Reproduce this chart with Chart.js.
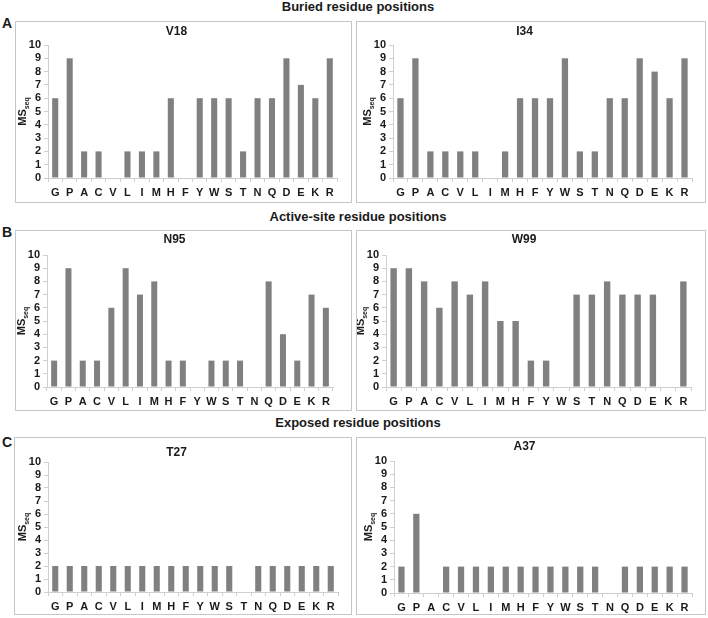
<!DOCTYPE html>
<html>
<head>
<meta charset="utf-8">
<script src="https://cdn.jsdelivr.net/npm/chart.js@4"></script>
<style>
  body { margin: 0; background: #fff; width: 708px; height: 618px; position: relative; overflow: hidden;
         font-family: "Liberation Sans", Arial, sans-serif; color: #1a1a1a; }
  .head { position: absolute; left: 0; width: 716px; text-align: center; font-weight: bold; font-size: 13px; line-height: 14px; }
  .letter { position: absolute; left: 2px; font-weight: bold; font-size: 14px; line-height: 14px; }
  .box { position: absolute; border: 1px solid #c6c6c6; box-sizing: border-box; }
  .box canvas { position: absolute; left: 0; top: 0; }
</style>
</head>
<body>
<div class="head" style="top:0px">Buried residue positions</div>
<div class="head" style="top:210px">Active-site residue positions</div>
<div class="head" style="top:416px">Exposed residue positions</div>
<div class="letter" style="top:16px">A</div>
<div class="letter" style="top:225px">B</div>
<div class="letter" style="top:435px">C</div>
<div id="panels"></div>

<script>
Chart.defaults.font.family = '"Liberation Sans", Arial, sans-serif';
Chart.defaults.color = '#1a1a1a';

const residues = ['G', 'P', 'A', 'C', 'V', 'L', 'I', 'M', 'H', 'F', 'Y', 'W', 'S', 'T', 'N', 'Q', 'D', 'E', 'K', 'R'];

const v18 = [6, 9, 2, 2, 0, 2, 2, 2, 6, 0, 6, 6, 6, 2, 6, 6, 9, 7, 6, 9];
const i34 = [6, 9, 2, 2, 2, 2, 0, 2, 6, 6, 6, 9, 2, 2, 6, 6, 9, 8, 6, 9];
const n95 = [2, 9, 2, 2, 6, 9, 7, 8, 2, 2, 0, 2, 2, 2, 0, 8, 4, 2, 7, 6];
const w99 = [9, 9, 8, 6, 8, 7, 8, 5, 5, 2, 2, 0, 7, 7, 8, 7, 7, 7, 0, 8];
const t27 = [2, 2, 2, 2, 2, 2, 2, 2, 2, 2, 2, 2, 2, 0, 2, 2, 2, 2, 2, 2];
const a37 = [2, 6, 0, 2, 2, 2, 2, 2, 2, 2, 2, 2, 2, 2, 0, 2, 2, 2, 2, 2];

const yMin = 0, yMax = 10, yStep = 1;

// box: left, top, width, height (page px); yw/xh: axis sizes; pr: right pad; tc: title centre; top: plot top
const panels = [
  { title: 'V18', data: v18, box: [15, 21, 337, 182], yw: 32, pr: 14, tc: 10, top: 23, xh: 24 },
  { title: 'I34', data: i34, box: [356, 21, 350, 182], yw: 36, pr: 13, tc: 10, top: 23, xh: 24 },
  { title: 'N95', data: n95, box: [15, 230, 337, 181], yw: 31, pr: 18, tc: 9, top: 24, xh: 23 },
  { title: 'W99', data: w99, box: [356, 230, 350, 181], yw: 29, pr: 14, tc: 9, top: 24, xh: 23 },
  { title: 'T27', data: t27, box: [14, 437, 338, 178], yw: 33, pr: 13, tc: 15, top: 24, xh: 22 },
  { title: 'A37', data: a37, box: [356, 437, 350, 178], yw: 37, pr: 13, tc: 9, top: 23, xh: 21 }
];

const axisGrey = '#cfcfcf';
const tickFont = { size: 11, weight: 'bold' };

// rotated "MS" with subscript "seq"
const msLabel = {
  id: 'msLabel',
  afterDraw(chart) {
    const a = chart.chartArea, ctx = chart.ctx;
    ctx.save();
    ctx.translate(a.left - 25, (a.top + a.bottom) / 2);
    ctx.rotate(-Math.PI / 2);
    ctx.fillStyle = '#1a1a1a';
    ctx.textBaseline = 'middle';
    ctx.font = 'bold 11px "Liberation Sans", Arial, sans-serif';
    const w1 = ctx.measureText('MS').width;
    ctx.font = 'bold 7px "Liberation Sans", Arial, sans-serif';
    const w2 = ctx.measureText('seq').width;
    const x0 = -(w1 + w2) / 2;
    ctx.font = 'bold 11px "Liberation Sans", Arial, sans-serif';
    ctx.fillText('MS', x0, 0);
    ctx.font = 'bold 7px "Liberation Sans", Arial, sans-serif';
    ctx.fillText('seq', x0 + w1, 4);
    ctx.restore();
  }
};

const host = document.getElementById('panels');

panels.forEach(p => {
  const div = document.createElement('div');
  div.className = 'box';
  div.style.left = p.box[0] + 'px';
  div.style.top = p.box[1] + 'px';
  div.style.width = p.box[2] + 'px';
  div.style.height = p.box[3] + 'px';
  const cv = document.createElement('canvas');
  cv.width = p.box[2] - 2;
  cv.height = p.box[3] - 2;
  div.appendChild(cv);
  host.appendChild(div);

  new Chart(cv, {
    type: 'bar',
    data: {
      labels: residues,
      datasets: [{ data: p.data, backgroundColor: '#808080', borderWidth: 0, barPercentage: 0.42, categoryPercentage: 1 }]
    },
    options: {
      responsive: false,
      animation: false,
      layout: { padding: { left: 0, right: p.pr, top: 0, bottom: 0 } },
      plugins: {
        legend: { display: false },
        tooltip: { enabled: false },
        title: {
          display: true, text: p.title, color: '#1a1a1a',
          font: { size: 12, weight: 'bold', lineHeight: 1.2 },
          padding: { top: p.tc - 7.2, bottom: p.top - p.tc - 7.2 }
        }
      },
      scales: {
        x: {
          grid: { display: true, drawOnChartArea: false, tickLength: 4, color: axisGrey, offset: true },
          border: { color: axisGrey },
          ticks: { color: '#1a1a1a', font: tickFont, padding: 4, autoSkip: false, maxRotation: 0 },
          afterFit: s => { s.height = p.xh; }
        },
        y: {
          min: yMin, max: yMax,
          grid: { drawOnChartArea: false, tickLength: 4, color: axisGrey },
          border: { color: axisGrey },
          ticks: { stepSize: yStep, autoSkip: false, color: '#1a1a1a', font: tickFont, padding: 3 },
          afterFit: s => { s.width = p.yw; }
        }
      }
    },
    plugins: [msLabel]
  });
});
</script>
</body>
</html>
